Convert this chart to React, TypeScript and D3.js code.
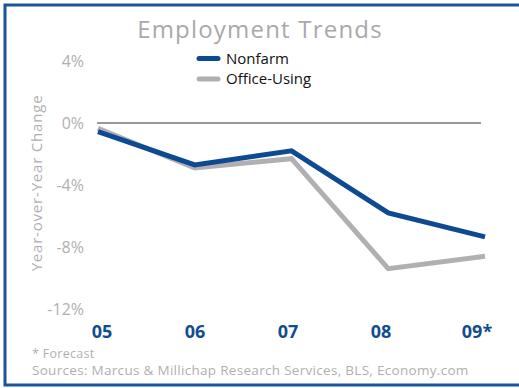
import React from "react";
import * as d3 from "d3";

const years = ["05", "06", "07", "08", "09*"];
const nonfarm = [-0.55, -2.7, -1.8, -5.8, -7.35];
const officeUsing = [-0.35, -2.9, -2.3, -9.4, -8.6];
const yTicks = [4, 0, -4, -8, -12];

const W = 519;
const H = 388;
const FONT = "'Open Sans', 'Liberation Sans', sans-serif";

export default function App() {
  const x = d3.scalePoint<string>().domain(years).range([98, 485]);
  const xLabel = d3.scalePoint<string>().domain(years).range([102, 474]);
  const y = d3.scaleLinear().domain([-12, 4]).range([309, 61]);
  const line = d3
    .line<number>()
    .x((_, i) => x(years[i]) as number)
    .y((d) => y(d));

  return (
    <svg width={W} height={H} style={{ position: "absolute", left: 0, top: 0 }}>
      <rect x={0} y={0} width={W} height={H} fill="#fff" />
      <rect x={5} y={5} width={W + 10} height={H - 8} fill="none" stroke="#1a5599" strokeWidth={3} />
      <text x={260} y={38} textAnchor="middle" fontFamily={FONT} fontSize={24} letterSpacing={1.2} fill="#a9a9ab">
        Employment Trends
      </text>
      {/* legend */}
      <line x1={199} x2={218} y1={58.5} y2={58.5} stroke="#0d4a91" strokeWidth={5} strokeLinecap="round" />
      <text x={226} y={63.5} fontFamily={FONT} fontSize={15} fill="#111">Nonfarm</text>
      <line x1={199} x2={218} y1={79} y2={79} stroke="#b0b0b3" strokeWidth={5} strokeLinecap="round" />
      <text x={226} y={84} fontFamily={FONT} fontSize={15} fill="#111">Office-Using</text>
      {/* y axis labels */}
      {yTicks.map((t) => (
        <text key={t} x={84} y={y(t) + 5.5} textAnchor="end" fontFamily={FONT} fontSize={16} fill="#b0b0b2">
          {t + "%"}
        </text>
      ))}
      <text
        transform={`translate(42,${183}) rotate(-90)`}
        textAnchor="middle"
        fontFamily={FONT}
        fontSize={15}
        letterSpacing={0.8}
        fill="#b0b0b2"
      >
        Year-over-Year Change
      </text>
      {/* zero line */}
      <line x1={97} x2={481} y1={y(0)} y2={y(0)} stroke="#333" strokeWidth={1} />
      {/* series */}
      <path d={line(officeUsing) || ""} fill="none" stroke="#b0b0b3" strokeWidth={5} strokeLinejoin="miter" />
      <path d={line(nonfarm) || ""} fill="none" stroke="#0d4a91" strokeWidth={5} strokeLinejoin="miter" />
      {/* x labels */}
      {years.map((yr) => (
        <text
          key={yr}
          x={(xLabel(yr) as number) + (yr.endsWith("*") ? 3 : 0)}
          y={338}
          textAnchor="middle"
          fontFamily={FONT}
          fontWeight="bold"
          fontSize={18}
          fill="#124d8f"
        >
          {yr}
        </text>
      ))}
      <text x={32} y={358} fontFamily={FONT} fontSize={12.5} letterSpacing={0.3} fill="#b0b0b2">* Forecast</text>
      <text x={32} y={375} fontFamily={FONT} fontSize={13.5} letterSpacing={0.3} fill="#b0b0b2">
        Sources: Marcus &amp; Millichap Research Services, BLS, Economy.com
      </text>
    </svg>
  );
}
